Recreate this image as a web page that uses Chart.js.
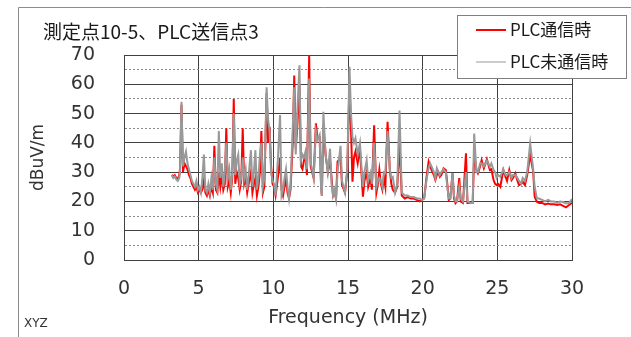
<!DOCTYPE html>
<html>
<head>
<meta charset="utf-8">
<script src="https://cdn.jsdelivr.net/npm/chart.js@4.4.1/dist/chart.umd.min.js"></script>
<style>
  html, body { margin: 0; padding: 0; background: #ffffff; }
  #wrap { position: relative; width: 631px; height: 337px; }
  canvas { display: block; }
</style>
</head>
<body>
<div id="wrap"><canvas id="c" width="631" height="337"></canvas></div>
<script>
const chartTitle = '測定点10-5、PLC送信点3';
const seriesLabels = ['PLC通信時', 'PLC未通信時'];
const xTitle = 'Frequency (MHz)';
const yTitle = 'dBuV/m';
const sourceNote = 'XYZ';

const freq = [3.2,3.3,3.4,3.5,3.6,3.7,3.75,3.85,3.95,4.05,4.15,4.25,4.35,4.45,4.55,4.65,4.75,4.85,4.95,5.05,
5.15,5.25,5.35,5.45,5.55,5.65,5.75,5.85,5.95,6.05,6.15,6.25,6.35,6.45,6.55,6.65,6.75,6.85,6.95,7.05,
7.15,7.25,7.35,7.45,7.55,7.65,7.75,7.85,7.95,8.05,8.15,8.25,8.35,8.5,8.6,8.7,8.8,8.9,9.0,9.1,
9.2,9.3,9.4,9.55,9.65,9.75,9.85,9.95,10.05,10.15,10.3,10.45,10.55,10.65,10.75,10.85,10.95,11.05,11.15,11.3,
11.4,11.5,11.6,11.75,11.85,11.95,12.05,12.15,12.25,12.4,12.5,12.6,12.7,12.85,12.95,13.1,13.2,13.25,13.35,13.5,
13.65,13.8,13.9,14.0,14.1,14.2,14.3,14.5,14.6,14.8,14.95,15.1,15.2,15.3,15.4,15.5,15.65,15.8,15.9,16.0,
16.1,16.25,16.35,16.5,16.6,16.75,16.9,17.0,17.1,17.2,17.3,17.4,17.5,17.65,17.8,17.9,18.0,18.15,18.3,18.45,
18.6,18.8,19.0,19.2,19.4,19.6,19.8,19.95,20.1,20.25,20.4,20.5,20.6,20.75,20.85,20.95,21.05,21.15,21.25,21.4,
21.55,21.65,21.75,21.85,22.0,22.1,22.2,22.3,22.45,22.55,22.7,22.9,23.0,23.2,23.35,23.45,23.6,23.7,23.85,23.95,
24.1,24.3,24.5,24.6,24.75,24.85,24.95,25.05,25.2,25.4,25.55,25.65,25.8,25.95,26.05,26.2,26.35,26.45,26.6,26.7,
26.85,27.0,27.2,27.4,27.5,27.65,27.8,28.0,28.2,28.4,28.6,28.8,29.0,29.2,29.4,29.6,29.8,30.0];

const plcOn = [29,28.5,29,28,27.5,29,31,53,30,33,32,31,29,28,26,25,24,25,23,24,
23,24,27,23,22,24,22,25,23,39,24,23,30,25,29,24,26,45,25,27,
23,28,55,26,30,28,24,27,45,26,28,23,26,30,23,26,28,22,25,30,
44,23,25,57,40,45.5,32,26,25,22,28,35,24,22,25,28,23,21,24,40,
63,38,45,60,32,31,34,36,29,70,32,30,28,46.7,42,42,25,22,46,36,
30,34,28,22,23,21,33.6,35,25.6,23,30,60,45,26.7,35,37,33,38,30,21.6,
27,30,25,28,24,46,23,26,30.7,26,24,28,25,47.2,30.7,26,24,23,25,40,
22,21,21.5,21,21,20.5,20,20.5,21,28,33.6,32,30.7,29,27.3,29,30,28.4,29,31.3,
30.7,26,20.5,21,29.6,21,19.4,20,28,20,19.5,36.4,19.5,19.5,19.5,36,30.7,29.6,32,34.1,
31.3,34.4,30.7,31,27.3,26,25.6,26,25,30.7,28.4,27,30.7,27.3,28,29.6,27,25.6,26,26.7,
25.6,29,36,30.2,21.6,19.9,19.5,19.5,19,19.3,19,19,18.8,19,18.5,18,18.8,19.5];

const plcOff = [29,28,28.5,27.5,27,28,30,54,32,35,37,33,31,29,27,26,25,27,24,25,
23,28,36,24,23,26,23,28,24,35,26,24,44,28,33,25,30,40,28,31,
24,30,50,29,34,36,26,28,35,28,31,24,29,37.5,25,30,37.5,24,28,36,
40,25,28,59,48,44,30,27,26,22,34,49.5,22,24,28,31,25,21,26,45,
59,36,50,66.5,34,36,35,37,31,62,33,31,28,44,41,42.7,24,22,50.6,36,
30,38,26,22,24,21,30,39,27,23,31.3,66,50,42,40,41.6,36,40,32,25,
30,34,27,29.7,26,40,25,27,28,27,25,30,29.7,44,31,28,28.4,23,26,51,
23,22,22,21.5,21.5,21,21,20.5,21,27,31.5,33,31.9,30,28,31.3,30,29,30,31,
30,25,21,21,29.5,22,20,20,25,21,20,30,20,19.5,19.5,43.2,30,30,33,33,
32,34,31.9,33,30.7,30,28,29,28.4,31,29,29,30,28,29,29,28,27,26,28,
27,30,39.8,31,25,21,21,20.5,20,20.5,20,20,19.5,20,19.8,19.3,19.5,20.8];

const xTicks = [0, 5, 10, 15, 20, 25, 30];
const yTicks = [0, 10, 20, 30, 40, 50, 60, 70];

const lineColors = ['#ff0000', '#999999'];

const toPoints = (vals) => freq.map((f, i) => ({ x: f, y: vals[i] }));

const decor = {
  id: 'decor',
  beforeDraw(chart) {
    const ctx = chart.ctx;
    ctx.save();
    ctx.fillStyle = '#ffffff';
    ctx.fillRect(0, 0, chart.width, chart.height);
    ctx.strokeStyle = '#8c8c8c';
    ctx.lineWidth = 1;
    ctx.beginPath();
    ctx.moveTo(18.5, chart.height);
    ctx.lineTo(18.5, 7.5);
    ctx.lineTo(chart.width, 7.5);
    ctx.stroke();
    ctx.restore();
  },
  afterDraw(chart) {
    const ctx = chart.ctx;
    ctx.save();
    // title
    ctx.fillStyle = '#1a1a1a';
    ctx.font = '19px "Noto Sans CJK JP"';
    ctx.textBaseline = 'middle';
    ctx.textAlign = 'left';
    ctx.fillText(chartTitle, 43, 32);
    // legend box
    ctx.fillStyle = '#ffffff';
    ctx.fillRect(457.5, 15.5, 169, 63);
    ctx.strokeStyle = '#7f7f7f';
    ctx.lineWidth = 1;
    ctx.strokeRect(457.5, 15.5, 169, 63);
    chart.data.datasets.forEach((ds, i) => {
      const y = 30 + i * 32;
      ctx.strokeStyle = ds.borderColor;
      ctx.lineWidth = i === 0 ? 2 : 1;
      ctx.beginPath();
      ctx.moveTo(476, y);
      ctx.lineTo(506, y);
      ctx.stroke();
      ctx.fillStyle = '#1a1a1a';
      ctx.font = '17px "Noto Sans CJK JP"';
      ctx.textBaseline = 'middle';
      ctx.fillText(ds.label, 510, y);
    });
    // source note
    ctx.fillStyle = '#333333';
    ctx.font = '12px "DejaVu Sans"';
    ctx.textBaseline = 'middle';
    ctx.fillText(sourceNote, 24, 324);
    ctx.restore();
  }
};

new Chart(document.getElementById('c'), {
  type: 'line',
  data: {
    datasets: [
      { label: seriesLabels[0], data: toPoints(plcOn), borderColor: lineColors[0], borderWidth: 2, pointRadius: 0, tension: 0, order: 1 },
      { label: seriesLabels[1], data: toPoints(plcOff), borderColor: lineColors[1], borderWidth: 2, pointRadius: 0, tension: 0, order: 0 }
    ]
  },
  options: {
    responsive: false,
    animation: false,
    devicePixelRatio: 1,
    layout: { padding: { left: 0, top: 55, right: 59, bottom: 0 } },
    plugins: { legend: { display: false }, title: { display: false }, tooltip: { enabled: false } },
    scales: {
      x: {
        type: 'linear',
        min: xTicks[0],
        max: xTicks[xTicks.length - 1],
        afterBuildTicks: (s) => { s.ticks = xTicks.map(v => ({ value: v })); },
        afterFit: (s) => { s.height = 77; },
        ticks: { color: '#333333', padding: 18, font: { family: 'DejaVu Sans', size: 19 }, autoSkip: false, maxRotation: 0 },
        grid: { color: '#404040', lineWidth: 1, drawTicks: false },
        border: { display: true, color: '#404040' },
        title: { display: true, text: xTitle, color: '#333333', font: { family: 'DejaVu Sans', size: 19 }, padding: { top: 0, bottom: 8 } }
      },
      y: {
        min: 0,
        max: 70,
        afterBuildTicks: (s) => { const t = []; for (let v = 0; v <= 70; v += 5) t.push({ value: v }); s.ticks = t; },
        afterFit: (s) => { s.width = 124; },
        ticks: {
          color: '#333333', padding: 29, autoSkip: false,
          font: { family: 'DejaVu Sans', size: 19 },
          callback: (v) => yTicks.includes(v) ? String(v) : ''
        },
        grid: {
          drawTicks: false, lineWidth: 1,
          color: (c) => (c.tick && c.tick.value % 10 === 0) ? '#404040' : '#8a8a8a'
        },
        border: {
          display: true, color: '#404040',
          dash: (c) => (c.tick && c.tick.value % 10 !== 0) ? [2, 2] : []
        },
        title: { display: true, text: yTitle, color: '#333333', font: { family: 'DejaVu Sans', size: 17 }, padding: { top: 28, bottom: 0 } }
      }
    }
  },
  plugins: [decor]
});
</script>
</body>
</html>
